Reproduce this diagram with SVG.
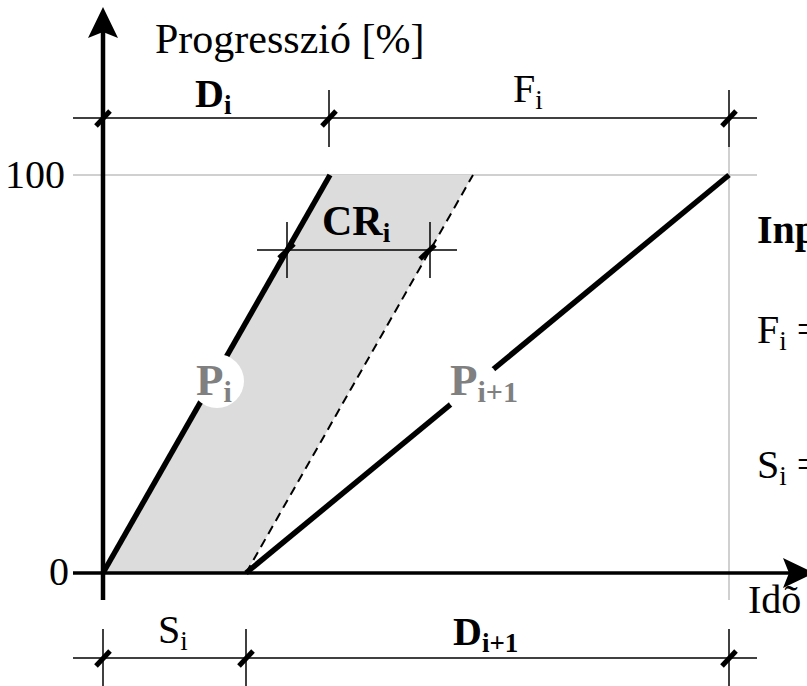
<svg xmlns="http://www.w3.org/2000/svg" width="807" height="686" viewBox="0 0 807 686">
<style>
text{font-family:"Liberation Serif","Times New Roman",serif;font-size:40px;fill:#000}
.b{font-weight:bold}
.g{fill:#808080;font-weight:bold;font-size:45px}
.sub{font-size:27px}
.gsub{font-size:30px}
.dim{stroke:#000;stroke-width:1.5;fill:none}
.grid{stroke:#c0c0c0;stroke-width:1.5;fill:none}
.tick{stroke:#000;stroke-width:5;stroke-linecap:butt}
.thick{stroke:#000;stroke-width:5.5;fill:none}
</style>
<rect width="807" height="686" fill="#fff"/>
<g id="grid">
<line class="grid" x1="73" y1="175" x2="757" y2="175"/>
<line class="grid" x1="729" y1="147" x2="729" y2="600"/>
</g>
<g id="band">
<polygon points="103,573 330,175 473,175 246,573" fill="#dcdcdc"/>
</g>
<g id="connectors">
<line x1="246" y1="573" x2="473" y2="175" stroke="#000" stroke-width="2" stroke-dasharray="9,6"/>
<line class="thick" x1="103" y1="573" x2="330" y2="175"/>
<line class="thick" x1="246" y1="573" x2="729" y2="175"/>
<line x1="103" y1="600" x2="103" y2="30" stroke="#000" stroke-width="4.5"/>
<polygon points="103,7 118,38 103,32 88,38" fill="#000"/>
<line x1="73" y1="573" x2="790" y2="573" stroke="#000" stroke-width="3.5"/>
<polygon points="814,573 783,588 789,573 783,558" fill="#000"/>
<line class="dim" x1="73" y1="118" x2="757" y2="118"/>
<line class="dim" x1="329" y1="90" x2="329" y2="147"/>
<line class="dim" x1="729" y1="90" x2="729" y2="147"/>
<line class="tick" x1="96" y1="126" x2="110" y2="111"/>
<line class="tick" x1="322" y1="126" x2="336" y2="111"/>
<line class="tick" x1="722" y1="126" x2="736" y2="111"/>
<line class="dim" x1="73" y1="658" x2="757" y2="658"/>
<line class="dim" x1="103" y1="629" x2="103" y2="686"/>
<line class="dim" x1="246" y1="629" x2="246" y2="686"/>
<line class="dim" x1="729" y1="629" x2="729" y2="686"/>
<line class="tick" x1="96" y1="666" x2="110" y2="651"/>
<line class="tick" x1="239" y1="666" x2="253" y2="651"/>
<line class="tick" x1="722" y1="666" x2="736" y2="651"/>
<line class="dim" x1="257" y1="250" x2="457" y2="250"/>
<line class="dim" x1="287" y1="222" x2="287" y2="278"/>
<line class="dim" x1="430" y1="222" x2="430" y2="278"/>
<line class="tick" x1="279" y1="258" x2="294" y2="244"/>
<line class="tick" x1="420" y1="259" x2="435" y2="245"/>
</g>
<g id="label-Pi">
<circle cx="217" cy="381" r="27" fill="#fff"/>
<text class="g" x="196" y="395">P<tspan class="gsub" dy="7">i</tspan></text>
</g>
<g id="label-Pi1">
<circle cx="473" cy="388" r="28" fill="#fff"/>
<text class="g" x="450" y="395">P<tspan class="gsub" dy="7">i+1</tspan></text>
</g>
<g id="axis-labels">
<text x="155" y="53" style="font-size:42px">Progresszió [%]</text>
<text x="65" y="188" text-anchor="end">100</text>
<text x="69" y="585" text-anchor="end">0</text>
<text x="748" y="613">Idõ</text>
</g>
<g id="dim-labels">
<text class="b" x="195" y="107">D<tspan class="sub" dy="7">i</tspan></text>
<text x="513" y="102">F<tspan class="sub" dy="7">i</tspan></text>
<text class="b" x="322" y="235" style="font-size:42px">CR<tspan class="sub" dy="7">i</tspan></text>
<text x="158" y="643">S<tspan class="sub" dy="7">i</tspan></text>
<text class="b" x="453" y="645">D<tspan class="sub" dy="7">i+1</tspan></text>
</g>
<g id="side-text">
<text class="b" x="757" y="243">Inp</text>
<text x="757" y="343">F<tspan class="sub" dy="7">i</tspan><tspan dy="-7"> =</tspan></text>
<text x="757" y="478">S<tspan class="sub" dy="7">i</tspan><tspan dy="-7"> =</tspan></text>
</g>
</svg>
